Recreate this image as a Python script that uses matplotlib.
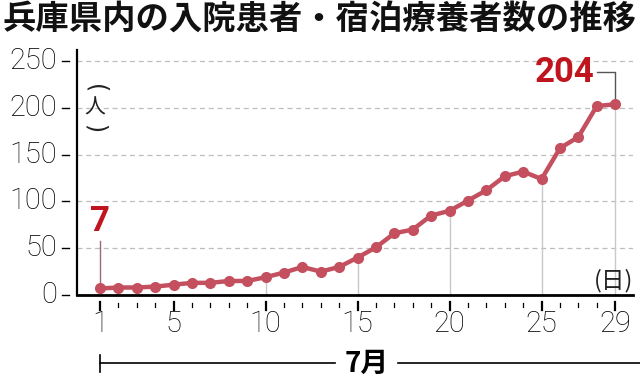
import matplotlib
matplotlib.use("Agg")
import matplotlib.pyplot as plt
import matplotlib.transforms as mtransforms

plt.rcParams['font.family'] = ['Noto Sans CJK JP', 'DejaVu Sans']

days = list(range(1, 30))
values = [7, 8, 8, 9, 11, 13, 13, 15, 15, 19, 24, 30, 25, 30, 40, 51, 66, 70,
          85, 90, 101, 112, 127, 132, 124, 157, 169, 202, 204]
yticks = [0, 50, 100, 150, 200, 250]
xmajor = [1, 5, 10, 15, 20, 25, 29]
guide_days = [10, 15, 20, 25, 29]

line_color = '#C4505F'
label_red = '#C0141E'
num_font = ['Roboto', 'DejaVu Sans']

fig = plt.figure(figsize=(6.4, 3.78), dpi=100)
ax = fig.add_axes([77/640, 1-295/378, 556/640, 245/378])
ax.set_xlim(-0.25, 29.97)
ax.set_ylim(0, 262)

for s in ['top', 'right']:
    ax.spines[s].set_visible(False)
ax.spines['left'].set_linewidth(1.6)
ax.spines['bottom'].set_linewidth(2.0)
ax.spines['left'].set_zorder(5)
ax.spines['bottom'].set_zorder(5)

# grid
for y in yticks[1:]:
    ax.axhline(y, color='#bdbdbd', lw=0.9, ls=(0, (4, 3)), zorder=1)

# guides
for d in guide_days:
    v = values[d - 1]
    ax.plot([d, d], [0, v], color='#c8c8c8', lw=1.0, zorder=2)

ax.plot(days, values, color=line_color, lw=3.2, marker='o', ms=8,
        markeredgewidth=0, zorder=4)

# ticks (manual, detached from spine)
ax.set_xticks([])
ax.set_yticks([])
tx = mtransforms.blended_transform_factory(ax.transData, ax.transAxes)
ty = mtransforms.blended_transform_factory(ax.transAxes, ax.transData)
for d in days:
    if d in xmajor:
        ax.plot([d, d], [-0.028, -0.062], color='black', lw=1.6, transform=tx, clip_on=False)
        ax.text(d, -0.062, str(d), transform=tx, ha='center', va='top',
                fontsize=21, family=num_font, fontweight='light', color='#000000')
    else:
        ax.plot([d, d], [-0.033, -0.05], color='black', lw=0.9, transform=tx, clip_on=False)
for y in yticks:
    ax.plot([-0.015, -0.027], [y, y], color='black', lw=1.0, transform=ty, clip_on=False)
    ax.text(-0.036, y, str(y), transform=ty, ha='right', va='center',
            fontsize=21, family=num_font, fontweight='light', color='#000000')

# unit labels (vertical)
ux = 0.73
ax.text(ux, 221, '(', ha='center', va='center', fontsize=17, rotation=-90,
        family=['DejaVu Sans'], color='#222222')
ax.text(ux, 200, '人', ha='center', va='center', fontsize=15, color='#222222')
ax.text(ux, 178, ')', ha='center', va='center', fontsize=17, rotation=-90,
        family=['DejaVu Sans'], color='#222222')
ax.text(29.97, 3, '(日)', ha='right', va='bottom', fontsize=17, color='#222222')

# annotations
ax.plot([1, 1], [values[0], 58], color='#9a6a70', lw=1.0, zorder=3)
ax.text(1, 61, '7', color=label_red, fontsize=25, fontweight='bold', ha='center', va='bottom',
        family=num_font)
ax.plot([28.0, 29, 29], [238, 238, values[-1]], color='#555555', lw=1.0, zorder=3)
ax.text(27.9, 238, '204', color=label_red, fontsize=25, fontweight='bold', ha='right', va='center',
        family=num_font)

# month bracket
fig.add_artist(plt.Line2D([100/640, 335/640], [1-363/378]*2, color='black', lw=1.2))
fig.add_artist(plt.Line2D([398/640, 640/640], [1-363/378]*2, color='black', lw=1.2))
fig.add_artist(plt.Line2D([100/640, 100/640], [1-355/378, 1-372/378], color='black', lw=1.2))
fig.text(367/640, 1-364/378, '7月', ha='center', va='center', fontsize=20, fontweight='bold')

# title
fig.text(0.5, 1-19/378, '兵庫県内の入院患者・宿泊療養者数の推移', ha='center', va='center',
         fontsize=24, fontweight='bold', color='#111111')

fig.savefig('out.png', dpi=100)
